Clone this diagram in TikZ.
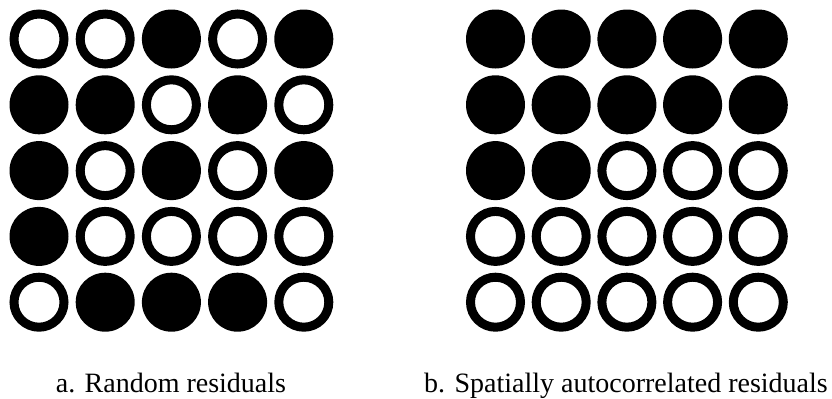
\documentclass[tikz,border=0pt]{standalone}
\usepackage{fontspec}
\setmainfont{Liberation Serif}
\newfontfamily\capfont{Liberation Serif}
\begin{document}
\begin{tikzpicture}[x=0.5pt,y=-0.5pt,
  full/.style={fill=black},
  hollow/.style={draw=black,line width=4.5pt},
  caption/.style={font=\capfont\fontsize{14}{16}\selectfont,anchor=base}]
\useasboundingbox (0,0) rectangle (832,398);
% left grid: random pattern (1 = filled, 0 = ring)
\foreach \row/\pat in {0/{0,0,1,0,1},1/{1,1,0,1,0},2/{1,0,1,0,1},3/{1,0,0,0,0},4/{0,1,1,1,0}}{
  \foreach \v [count=\c from 0] in \pat {
    \pgfmathsetmacro{\cx}{39+66.2*\c}
    \pgfmathsetmacro{\cy}{39+65.8*\row}
    \ifnum\v=1
      \fill[full] (\cx,\cy) circle[radius=29.5];
    \else
      \draw[hollow] (\cx,\cy) circle[radius=25];
    \fi
  }
}
% right grid: clustered pattern
\foreach \row/\pat in {0/{1,1,1,1,1},1/{1,1,1,1,1},2/{1,1,0,0,0},3/{0,0,0,0,0},4/{0,0,0,0,0}}{
  \foreach \v [count=\c from 0] in \pat {
    \pgfmathsetmacro{\cx}{495.5+65.7*\c}
    \pgfmathsetmacro{\cy}{39+65.8*\row}
    \ifnum\v=1
      \fill[full] (\cx,\cy) circle[radius=29.5];
    \else
      \draw[hollow] (\cx,\cy) circle[radius=25];
    \fi
  }
}
\node[caption] (capa) at (171,392) {a. Random residuals};
\node[caption] (capb) at (626,392) {b. Spatially autocorrelated residuals};
\end{tikzpicture}
\end{document}
